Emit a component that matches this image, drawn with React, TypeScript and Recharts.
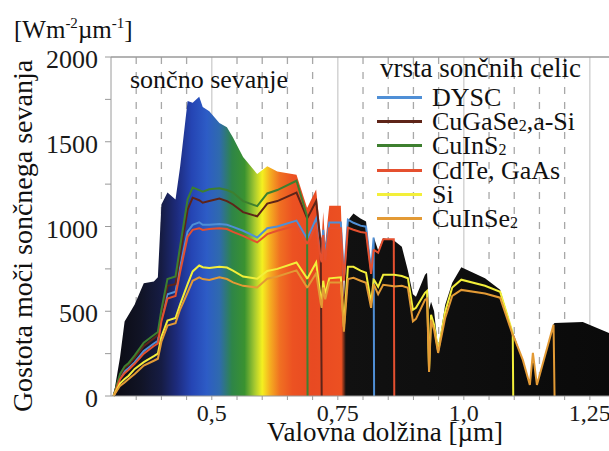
import React from 'react';
import {
  ComposedChart,
  Area,
  Line,
  XAxis,
  YAxis,
  CartesianGrid,
  ReferenceLine,
  Legend,
} from 'recharts';

// ---------- data ----------
const wavelengths = [
  0.305, 0.318, 0.327, 0.335, 0.347, 0.365, 0.385, 0.393, 0.4, 0.412,
  0.428, 0.437, 0.452, 0.462, 0.475, 0.482, 0.495, 0.515, 0.53, 0.542,
  0.562, 0.59, 0.61, 0.63, 0.668, 0.689, 0.69, 0.707, 0.716, 0.718,
  0.721, 0.725, 0.733, 0.756, 0.762, 0.77, 0.781, 0.795, 0.806, 0.816,
  0.821, 0.822, 0.83, 0.84, 0.861, 0.862, 0.877, 0.889, 0.899, 0.905,
  0.923, 0.927, 0.931, 0.935, 0.941, 0.949, 0.963, 0.977, 0.995, 1.042,
  1.072, 1.097, 1.098, 1.117, 1.131, 1.137, 1.145, 1.178, 1.18, 1.236,
  1.288,
];

const solarSpectrum = [
  0, 230, 440, 480, 540, 665, 675, 700, 1130, 1200,
  1160, 1350, 1740, 1730, 1765, 1705, 1680, 1610, 1585, 1525,
  1410, 1310, 1355, 1325, 1305, 1110, 1115, 1218, 950, 930,
  1085, 900, 1123, 1123, 580, 1035, 1076, 1047, 1030, 760,
  935, 930, 860, 930, 918, 916, 880, 740, 600, 585,
  715, 727, 510, 556, 500, 280, 538, 668, 760, 695,
  627, 380, 372, 213, 65, 254, 65, 425, 431, 437,
  372,
];

const dyscValues = [
  0, 110, 145, 165, 200, 265, 310, 325, 460, 600,
  615, 760, 970, 1010, 1025, 1010, 1010, 1015, 1010, 998,
  975, 935, 990, 1000, 1035, 929, 931, 1047, 840, 818,
  980, 830, 1024, 1024, 700, 1040, 1022, 1005, 999, 740,
  935, 0,
];

const cuGaSe2Values = [
  0, 120, 165, 185, 225, 295, 340, 360, 480, 650,
  660, 830, 1100, 1170, 1155, 1140, 1150, 1165, 1150, 1130,
  1085, 1060, 1135, 1150, 1200, 1050, 1052, 1150, 900, 0,
];

const cuInS2Values = [
  0, 130, 175, 195, 240, 315, 360, 378, 510, 690,
  705, 880, 1160, 1230, 1215, 1205, 1220, 1225, 1215, 1200,
  1150, 1120, 1195, 1215, 1270, 1060, 0,
];

const cdTeValues = [
  0, 100, 135, 155, 190, 250, 295, 310, 440, 575,
  590, 730, 940, 980, 990, 980, 985, 990, 985, 968,
  945, 906, 955, 975, 1006, 900, 902, 1010, 810, 790,
  950, 800, 990, 990, 680, 993, 981, 968, 963, 720,
  860, 862, 845, 925, 925, 0,
];

const siValues = [
  0, 75, 100, 120, 160, 200, 235, 250, 350, 445,
  460, 540, 660, 735, 770, 760, 755, 762, 758, 740,
  705, 692, 738, 750, 788, 694, 695, 788, 580, 547,
  680, 600, 694, 700, 408, 762, 762, 740, 727, 550,
  686, 684, 644, 715, 715, 715, 708, 695, 508, 520,
  609, 620, 154, 479, 420, 265, 497, 640, 686, 650,
  615, 372, 0,
];

const cuInSe2Values = [
  0, 60, 80, 100, 130, 180, 208, 220, 320, 415,
  430, 510, 610, 680, 700, 690, 685, 700, 690, 670,
  650, 640, 692, 705, 741, 641, 642, 724, 550, 520,
  640, 570, 670, 670, 380, 690, 697, 680, 668, 520,
  656, 655, 600, 656, 648, 646, 650, 638, 440, 455,
  567, 575, 142, 450, 390, 254, 461, 590, 626, 605,
  580, 360, 358, 213, 65, 254, 65, 420, 0,
];

const seriesNames = ['DYSC', 'CuGaSe2,a-Si', 'CuInS2', 'CdTe, GaAs', 'Si', 'CuInSe2'];

const xTickValues = [
  0.35, 0.4, 0.45, 0.5, 0.55, 0.6, 0.65, 0.7, 0.75, 0.8, 0.85, 0.9, 0.95,
  1.0, 1.05, 1.1, 1.15, 1.2, 1.25,
];
const xLabelValues = [0.5, 0.75, 1.0, 1.25];
const xLabelTexts = ['0,5', '0,75', '1,0', '1,25'];
const yTickValues = [0, 250, 500, 750, 1000, 1250, 1500, 1750, 2000];
const yLabelValues = [0, 500, 1000, 1500, 2000];
const yLabelTexts = ['0', '500', '1000', '1500', '2000'];

const gridDashed = [
  0.35, 0.4, 0.45, 0.55, 0.6, 0.65, 0.7, 0.8, 0.85, 0.9, 0.95, 1.05, 1.1,
  1.15, 1.2,
];
const gridSolid = [0.5, 0.75, 1.0, 1.25];

// ---------- styles ----------
const FONT = "'Liberation Serif', 'Times New Roman', serif";
const seriesColors = ['#4f8fd6', '#5e2418', '#3d7f2f', '#e5502f', '#f3ef3a', '#e39a35'];
const seriesKeys = ['dysc', 'cugase', 'cuins', 'cdte', 'si', 'cuinse'];
const seriesValues = [dyscValues, cuGaSe2Values, cuInS2Values, cdTeValues, siValues, cuInSe2Values];

// colour of the spectrum band at given wavelengths
const spectrumColorStops: [number, string][] = [
  [0.305, '#0b0b12'],
  [0.36, '#111426'],
  [0.4, '#161c44'],
  [0.43, '#1d2b7c'],
  [0.46, '#2545b4'],
  [0.49, '#2d5cc6'],
  [0.515, '#2f6aae'],
  [0.54, '#2e8548'],
  [0.565, '#3a9230'],
  [0.585, '#a6c930'],
  [0.6, '#f4f020'],
  [0.615, '#f5b020'],
  [0.635, '#f07022'],
  [0.66, '#ec5222'],
  [0.7, '#e84a22'],
  [0.757, '#ec5022'],
  [0.766, '#111111'],
  [1.288, '#0a0a0a'],
];

const data = wavelengths.map((wl, i) => {
  const row: Record<string, number | null> = { wl, spectrum: solarSpectrum[i] };
  seriesKeys.forEach((k, s) => {
    const v = seriesValues[s][i];
    row[k] = v === undefined ? null : v;
  });
  return row;
});

const wlMin = wavelengths[0];
const wlMax = wavelengths[wavelengths.length - 1];

const renderName = (name: string) =>
  name.split(/(2)/).map((part, i) =>
    part === '2' ? (
      <span key={i} style={{ fontSize: 16, position: 'relative', top: 1 }}>
        2
      </span>
    ) : (
      <span key={i}>{part}</span>
    ),
  );

const LegendContent = (props: any) => {
  const payload = (props.payload || [])
    .filter((p: any) => p.type !== 'none' && seriesNames.indexOf(String(p.value)) >= 0)
    .slice()
    .sort(
      (a: any, b: any) => seriesNames.indexOf(String(a.value)) - seriesNames.indexOf(String(b.value)),
    );
  return (
    <div style={{ fontFamily: FONT, fontSize: 26, color: '#111', width: 232 }}>
      <div style={{ height: 33, lineHeight: '30px', paddingLeft: 4, whiteSpace: 'nowrap', fontSize: 27 }}>
        vrsta sončnih celic
      </div>
      {payload.map((p: any, i: number) => (
        <div
          key={i}
          style={{ position: 'relative', height: 24.2, lineHeight: '24px', paddingLeft: 56, whiteSpace: 'nowrap' }}
        >
          <span
            style={{
              position: 'absolute',
              left: 1,
              top: 10,
              width: 45,
              height: 3,
              background: p.color,
            }}
          />
          {renderName(String(p.value))}
        </div>
      ))}
    </div>
  );
};

const xTickFormatter = (v: number) => {
  const idx = xLabelValues.findIndex((x) => Math.abs(x - v) < 1e-6);
  return idx >= 0 ? xLabelTexts[idx] : '';
};
const yTickFormatter = (v: number) => {
  const idx = yLabelValues.findIndex((x) => Math.abs(x - v) < 1e-6);
  return idx >= 0 ? yLabelTexts[idx] : '';
};

export default function App() {
  return (
    <div style={{ position: 'absolute', left: 0, top: 0, width: 609, height: 451, background: '#fff' }}>
      <ComposedChart
        width={609}
        height={451}
        data={data}
        margin={{ top: 57, right: 0, bottom: 0, left: 0 }}
      >
        <defs>
          <linearGradient id="spectrumFill" x1="0" y1="0" x2="1" y2="0">
            {spectrumColorStops.map(([wl, c], i) => (
              <stop key={i} offset={(wl - wlMin) / (wlMax - wlMin)} stopColor={c} />
            ))}
          </linearGradient>
        </defs>
        <CartesianGrid
          horizontal={false}
          vertical
          verticalValues={gridDashed}
          stroke="#a8a8a8"
          strokeWidth={1.3}
          strokeDasharray="7 8"
        />
        <CartesianGrid horizontal={false} vertical verticalValues={gridSolid} stroke="#cdcdcd" strokeWidth={1.3} />
        <XAxis
          type="number"
          dataKey="wl"
          domain={[0.3, 1.288]}
          allowDataOverflow
          ticks={xTickValues}
          interval={0}
          tickFormatter={xTickFormatter}
          height={55}
          stroke="#9a9a9a"
          tickSize={4}
          tickMargin={4}
          tick={{ fontSize: 24, fontFamily: FONT, fill: '#1a1a1a' }}
        />
        <YAxis
          type="number"
          domain={[0, 2000]}
          ticks={yTickValues}
          interval={0}
          tickFormatter={yTickFormatter}
          width={111}
          stroke="#9a9a9a"
          tickSize={6}
          tickMargin={7}
          tick={{ fontSize: 26, fontFamily: FONT, fill: '#1a1a1a', dy: 2 }}
        />
        <ReferenceLine y={2000} stroke="#9a9a9a" strokeWidth={1.5} />
        <Area
          type="linear"
          dataKey="spectrum"
          stroke="none"
          fill="url(#spectrumFill)"
          fillOpacity={1}
          legendType="none"
          isAnimationActive={false}
          activeDot={false}
        />
        {seriesKeys.map((k, s) => (
          <Line
            key={k}
            type="linear"
            dataKey={k}
            name={seriesNames[s]}
            stroke={seriesColors[s]}
            strokeWidth={2}
            dot={false}
            activeDot={false}
            connectNulls={false}
            isAnimationActive={false}
          />
        ))}
        <Legend
          layout="vertical"
          align="center"
          verticalAlign="middle"
          content={LegendContent}
          wrapperStyle={{ left: 376, top: 53, width: 232 }}
        />
      </ComposedChart>
      <svg
        width={609}
        height={451}
        style={{ position: 'absolute', left: 0, top: 0, pointerEvents: 'none' }}
        fontFamily={FONT}
      >
        <text x={14} y={38} fontSize={25} fill="#111">
          <tspan>[Wm</tspan>
          <tspan fontSize={15} dy={-10}>-2</tspan>
          <tspan dy={10}>µm</tspan>
          <tspan fontSize={15} dy={-10}>-1</tspan>
          <tspan dy={10}>]</tspan>
        </text>
        <text
          x={32}
          y={236}
          fontSize={28}
          fill="#111"
          textAnchor="middle"
          transform="rotate(-90 32 236)"
        >
          Gostota moči sončnega sevanja
        </text>
        <text x={130} y={88} fontSize={26} fill="#111">
          sončno sevanje
        </text>
        <text x={385} y={441} fontSize={27} fill="#111" textAnchor="middle">
          Valovna dolžina [µm]
        </text>
      </svg>
    </div>
  );
}
